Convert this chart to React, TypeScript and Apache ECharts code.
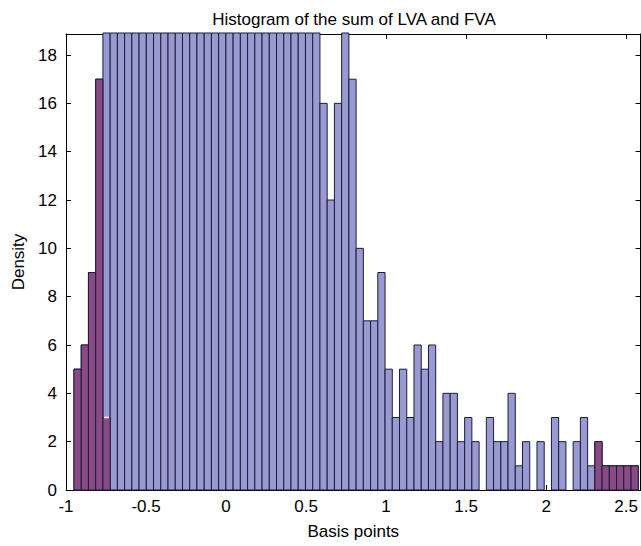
import React, { useEffect, useRef } from "react";
import * as echarts from "echarts";

// Histogram bins (left edge of first bin and bin width, in basis points)
const binStart = -0.9502;
const binWidth = 0.0452;

// Counts of all values per bin (bins past the top of the axis are clipped)
const allCounts = [
  5, 6, 9, 17,
  25, 30, 34, 38, 41, 44, 47, 49, 52, 54,
  55, 57, 58, 58, 59, 58, 57, 56, 54, 51,
  48, 45, 42, 38, 35, 31, 28, 25, 22, 20,
  16, 12, 16, 20, 17,
  10, 7, 7, 9, 5, 3, 5, 3, 6, 5, 6, 2, 4, 4, 2, 3, 2, 0, 3, 2, 2, 4, 1, 2, 0, 2, 0, 3, 2, 0, 2, 3, 1,
  2, 1, 1, 1, 1, 1,
];

// Tail counts (highlighted), left tail from bin 0, right tail from bin 72
const leftTailStartBin = 0;
const leftTail = [5, 6, 9, 17, 3];
const rightTailStartBin = 72;
const rightTail = [2, 1, 1, 1, 1, 1];

const xTicksMin = -1;
const xMax = 2.59;
const yMax = 18.87;

const titleText = "Histogram of the sum of LVA and FVA";
const xName = "Basis points";
const yName = "Density";

const FONT = "'Liberation Sans', Arial, Helvetica, sans-serif";
const BLUE = "#9a9ad2";
const MAGENTA = "#8a4a86";
const EDGE = "#1c1c3a";

export default function App() {
  const ref = useRef<HTMLDivElement>(null);

  useEffect(() => {
    if (!ref.current) return;
    const chart = echarts.init(ref.current, null, { renderer: "svg" });

    const allData = allCounts.map((c, k) => [
      binStart + k * binWidth,
      binStart + (k + 1) * binWidth,
      c,
      c,
    ]);
    const tailData: number[][] = [];
    leftTail.forEach((c, i) => {
      const k = leftTailStartBin + i;
      tailData.push([binStart + k * binWidth, binStart + (k + 1) * binWidth, c, allCounts[k]]);
    });
    rightTail.forEach((c, i) => {
      const k = rightTailStartBin + i;
      tailData.push([binStart + k * binWidth, binStart + (k + 1) * binWidth, c, allCounts[k]]);
    });

    const makeRender = (fill: string, markPartial: boolean) => (params: any, api: any) => {
      const x0 = api.value(0);
      const x1 = api.value(1);
      const h = api.value(2);
      const full = api.value(3);
      if (!h) return null;
      const cs = params.coordSys;
      const p0 = api.coord([x0, h]);
      const p1 = api.coord([x1, 0]);
      const left = Math.max(p0[0], cs.x);
      const right = Math.min(p1[0], cs.x + cs.width + 4);
      const top = Math.max(p0[1], cs.y - 1);
      const bottom = p1[1];
      const children: any[] = [
        {
          type: "rect",
          shape: { x: left, y: top, width: right - left, height: bottom - top },
          style: { fill, stroke: EDGE, lineWidth: 1 },
        },
      ];
      if (markPartial && full > h) {
        children.push({
          type: "line",
          shape: { x1: left + 1, y1: top, x2: right - 1, y2: top },
          style: { stroke: "#ffffff", lineWidth: 1.5 },
        });
      }
      return { type: "group", children };
    };

    const axisCommon = {
      axisLine: { show: true, onZero: false, lineStyle: { color: "#000", width: 1 } },
      axisTick: { show: true, inside: true, length: 5, lineStyle: { color: "#000" } },
      splitLine: { show: false },
    };

    chart.setOption({
      animation: false,
      grid: { left: 66, right: -2, top: 34, bottom: 56, containLabel: false },
      graphic: [
        {
          type: "text",
          x: 354,
          y: 19,
          style: {
            text: titleText,
            textAlign: "center",
            textVerticalAlign: "middle",
            font: `17px ${FONT}`,
            fill: "#000",
          },
        },
      ],
      xAxis: [
        {
          type: "value",
          position: "bottom",
          min: xTicksMin,
          max: xMax,
          interval: 0.5,
          ...axisCommon,
          axisLabel: {
            show: true,
            showMaxLabel: false,
            margin: 8,
            color: "#000",
            fontSize: 17,
            fontFamily: FONT,
          },
          name: xName,
          nameLocation: "middle",
          nameGap: 33,
          nameTextStyle: { color: "#000", fontSize: 17, fontFamily: FONT },
        },
        {
          type: "value",
          position: "top",
          min: xTicksMin,
          max: xMax,
          interval: 0.5,
          ...axisCommon,
          axisLabel: { show: false },
        },
      ],
      yAxis: [
        {
          type: "value",
          position: "left",
          min: 0,
          max: yMax,
          interval: 2,
          ...axisCommon,
          axisLabel: {
            show: true,
            showMaxLabel: false,
            margin: 9,
            color: "#000",
            fontSize: 17,
            fontFamily: FONT,
          },
          name: yName,
          nameLocation: "middle",
          nameGap: 37,
          nameTextStyle: { color: "#000", fontSize: 17, fontFamily: FONT },
        },
        {
          type: "value",
          position: "right",
          min: 0,
          max: yMax,
          interval: 2,
          ...axisCommon,
          axisLabel: { show: false },
        },
      ],
      series: [
        {
          type: "custom",
          name: "all",
          xAxisIndex: 0,
          yAxisIndex: 0,
          renderItem: makeRender(BLUE, false),
          encode: { x: [0, 1], y: 2 },
          data: allData,
          z: 1,
        },
        {
          type: "custom",
          name: "tails",
          xAxisIndex: 0,
          yAxisIndex: 0,
          renderItem: makeRender(MAGENTA, true),
          encode: { x: [0, 1], y: 2 },
          data: tailData,
          z: 2,
        },
      ],
    });

    return () => chart.dispose();
  }, []);

  return (
    <div
      ref={ref}
      style={{ position: "fixed", left: 0, top: 0, width: 641, height: 546, background: "#fff" }}
    />
  );
}
